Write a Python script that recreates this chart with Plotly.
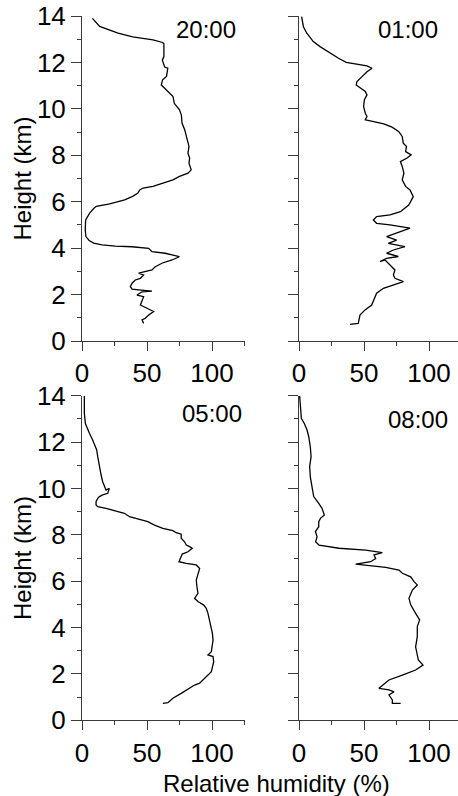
import plotly.graph_objects as go

W, H = 458, 796

# ---- Data (relative humidity %, height km) ----
rh_2000 = [8, 13.6, 27.7, 39, 54.6, 62, 63, 63, 61.8, 63.6, 66, 65, 62, 61, 63.6, 67.4, 70, 71, 75, 76.4,
           77, 79, 80.3, 81.5, 82.3, 81.5, 82.8, 82.3, 83.3, 84, 81.5, 75, 70, 62.3, 54.6, 47, 44.4, 43,
           39, 32.8, 21.3, 11, 9.2, 5.9, 2.8, 2.5, 3, 5.5, 9, 15.4, 25.6, 38.5, 51.3, 53.8, 64, 74.9,
           69.2, 61.5, 56.4, 53.8, 47.4, 43.6, 47.4, 44.9, 41, 38.5, 37.2, 38.5, 43.6, 53.8, 46.2, 42.3,
           47.4, 46.2, 44.9, 50, 55.1, 51.3, 48.7, 46.2, 47.4]
h_2000 = [13.9, 13.55, 13.26, 13.1, 12.97, 12.86, 12.8, 12.25, 12.1, 11.8, 11.75, 11.4, 11.25, 11.03, 10.89,
          10.67, 10.53, 10.24, 9.96, 9.74, 9.38, 9.1, 8.81, 8.59, 8.38, 8.09, 7.88, 7.66, 7.52, 7.37, 7.23,
          7.09, 6.94, 6.8, 6.66, 6.59, 6.51, 6.37, 6.23, 6.08, 5.91, 5.8, 5.72, 5.51, 5.22, 4.79, 4.5, 4.33,
          4.22, 4.14, 4.09, 4.06, 3.99, 3.85, 3.78, 3.63, 3.49, 3.35, 3.2, 3.06, 2.99, 2.92, 2.84, 2.7,
          2.63, 2.49, 2.34, 2.23, 2.2, 2.15, 2.12, 1.98, 1.91, 1.77, 1.55, 1.41, 1.27, 1.12, 0.98, 0.91, 0.76]

rh_0100 = [2, 3.4, 6, 11, 16.2, 24, 30.4, 36.3, 44.6, 52.3, 56.2, 52.3, 48.5, 44.6, 44, 47.2, 51, 52.3, 50.3,
           49.7, 51, 52.3, 51, 57.5, 65.2, 71.6, 76.8, 79.4, 80.2, 82.7, 82, 86.3, 83.2, 78, 79.4, 80.7,
           79.4, 82, 85.4, 87.9, 84.4, 78, 70, 59.7, 57.2, 59.7, 70, 85.4, 77.7, 67.4, 75.1, 68.7, 81.5,
           72.6, 67.4, 76.4, 67.4, 62.3, 66.2, 70, 73.8, 72.6, 73.8, 80.3, 72.6, 64.9, 59.7, 57.2, 55.9,
           50.8, 46.9, 45.6, 39.2]
h_0100 = [13.97, 13.54, 13.26, 12.9, 12.68, 12.4, 12.18, 12.0, 11.92, 11.85, 11.75, 11.6, 11.39, 11.18, 11.03,
          10.89, 10.75, 10.6, 10.39, 10.1, 9.81, 9.67, 9.53, 9.45, 9.35, 9.21, 9.02, 8.81, 8.52, 8.38, 8.16,
          8.02, 7.88, 7.73, 7.52, 7.23, 6.94, 6.66, 6.51, 6.22, 5.86, 5.57, 5.43, 5.36, 5.21, 5.07, 5.0,
          4.86, 4.71, 4.5, 4.35, 4.21, 4.07, 3.92, 3.78, 3.64, 3.56, 3.42, 3.49, 3.28, 3.06, 2.84, 2.7,
          2.56, 2.41, 2.27, 2.06, 1.77, 1.55, 1.34, 1.12, 0.76, 0.72]

rh_0500 = [1.8, 1.8, 2.6, 4.4, 5.7, 8.2, 9.5, 11.3, 12.1, 12.9, 13.4, 14.7, 15.9, 17.2, 18.5, 21, 19.8, 15.9,
           13.4, 12.1, 10.8, 10.8, 12.1, 18.5, 26.2, 32.6, 36.5, 44.2, 50.6, 55.8, 62.2, 69.9, 72.5, 76.3,
           76.3, 78.9, 80.2, 82.8, 84.8, 81.5, 77.1, 76.3, 74.6, 80.2, 87.9, 90.5, 89.2, 87.9, 88.4, 89.2,
           86.6, 89.2, 93.6, 95.6, 96.9, 98.2, 99.5, 100.3, 100.8, 100.3, 99.5, 96.9, 100.8, 101.3, 100.3,
           99.5, 96.9, 94.3, 90.5, 86.6, 82.8, 76.3, 69.9, 66.1, 62.2]
h_0500 = [13.99, 13.24, 12.8, 12.52, 12.38, 12.09, 11.87, 11.66, 11.37, 11.08, 10.87, 10.58, 10.29, 10.08,
          9.93, 10.0, 9.79, 9.72, 9.65, 9.57, 9.43, 9.29, 9.21, 9.14, 9.04, 8.93, 8.78, 8.67, 8.57, 8.42,
          8.28, 8.18, 8.09, 8.03, 7.85, 7.7, 7.56, 7.49, 7.42, 7.27, 7.17, 7.06, 6.84, 6.77, 6.7, 6.55, 6.34,
          6.05, 5.76, 5.48, 5.26, 5.12, 4.97, 4.83, 4.61, 4.33, 4.04, 3.75, 3.46, 3.18, 2.96, 2.82, 2.75,
          2.53, 2.31, 2.1, 1.95, 1.81, 1.6, 1.52, 1.38, 1.16, 0.95, 0.76, 0.73]

rh_0800 = [0.5, 1, 1.8, 4.1, 6.2, 7.5, 8.7, 9.3, 8.2, 8.7, 10, 11.3, 15.2, 17.7, 19.5, 16.5, 15.2, 15.2, 12.6,
           13.9, 12.8, 15.4, 30.8, 51.3, 64.1, 57.7, 59, 55.1, 43.6, 51.3, 66.7, 76.9, 79.5, 85.9, 88.5, 91,
           87.2, 84.6, 85.9, 89.7, 92.8, 91, 91, 89.7, 91, 91.8, 95.4, 89.7, 79.5, 69.2, 61.5, 69.2, 73.1,
           69.2, 71.8, 71.8, 78.2]
h_0800 = [13.99, 13.53, 13.02, 12.8, 12.52, 12.23, 11.8, 11.37, 10.94, 10.5, 10.08, 9.65, 9.36, 9.14, 8.85,
          8.71, 8.57, 8.35, 8.14, 7.92, 7.7, 7.56, 7.42, 7.34, 7.23, 7.13, 6.98, 6.84, 6.74, 6.7, 6.6, 6.48,
          6.34, 6.19, 5.98, 5.84, 5.62, 5.26, 4.98, 4.61, 4.33, 4.04, 3.61, 3.17, 2.82, 2.6, 2.38, 2.17,
          1.95, 1.74, 1.38, 1.31, 1.23, 1.09, 0.88, 0.73, 0.73]

panel_labels = ["20:00", "01:00", "05:00", "08:00"]
x_tickvals = [0, 50, 100]
y_tickvals = [0, 2, 4, 6, 8, 10, 12, 14]

FONT = "Liberation Sans, Arial, sans-serif"
AX_COLOR = "#3a3a3a"

fig = go.Figure()
series = [(rh_2000, h_2000), (rh_0100, h_0100), (rh_0500, h_0500), (rh_0800, h_0800)]
for i, (x, y) in enumerate(series):
    suffix = "" if i == 0 else str(i + 1)
    fig.add_trace(go.Scatter(x=x, y=y, mode="lines", xaxis="x" + suffix, yaxis="y" + suffix,
                             line=dict(color="black", width=1.3), showlegend=False, hoverinfo="skip",
                             cliponaxis=False))

def px_x(p):
    return p / W

def px_y(p):
    return 1 - p / H

# panel pixel geometry: (left, right, top, bottom)
geom = [(82, 244.5, 16, 341), (299, 458, 16, 341), (82, 244.5, 395.7, 720.3), (299, 458, 395.7, 720.3)]
xranges = [[0, 125], [0, (458 - 299) / 1.3], [0, 125], [0, (458 - 299) / 1.3]]

layout = dict(width=W, height=H, margin=dict(l=0, r=0, t=0, b=0, autoexpand=False),
              plot_bgcolor="white", paper_bgcolor="white", showlegend=False,
              font=dict(family=FONT, color="black"))
for i, (l, r, t, b) in enumerate(geom):
    suffix = "" if i == 0 else str(i + 1)
    layout["xaxis" + suffix] = dict(
        domain=[px_x(l), px_x(r)], range=xranges[i], anchor="y" + suffix, automargin=False,
        showgrid=False, zeroline=False, showline=True, linecolor=AX_COLOR, linewidth=1,
        ticks="outside", ticklen=9, tickwidth=1, tickcolor=AX_COLOR,
        tickvals=x_tickvals, tickfont=dict(size=26, family=FONT, color="black"),
        minor=dict(dtick=25, tick0=0, ticks="outside", ticklen=4, tickwidth=1, tickcolor=AX_COLOR),
        fixedrange=True)
    layout["yaxis" + suffix] = dict(
        domain=[px_y(b), px_y(t)], range=[0, 14], anchor="x" + suffix, automargin=False,
        showgrid=False, zeroline=False, showline=True, linecolor=AX_COLOR, linewidth=1,
        ticks="outside", ticklen=10, tickwidth=1, tickcolor=AX_COLOR,
        tickvals=y_tickvals, showticklabels=(i % 2 == 0),
        tickfont=dict(size=26, family=FONT, color="black"),
        minor=dict(dtick=1, tick0=0, ticks="outside", ticklen=4, tickwidth=1, tickcolor=AX_COLOR),
        fixedrange=True)

annotations = []
label_pos = [(206, 29), (408, 30), (212, 413), (418, 419)]
for txt, (ax_, ay_) in zip(panel_labels, label_pos):
    annotations.append(dict(text=txt, x=px_x(ax_), y=px_y(ay_), xref="paper", yref="paper",
                            xanchor="center", yanchor="middle", showarrow=False,
                            font=dict(size=24, family=FONT, color="black")))
for cy in [178.5, 558]:
    annotations.append(dict(text="Height (km)", x=px_x(22), y=px_y(cy), xref="paper", yref="paper",
                            xanchor="center", yanchor="middle", textangle=-90, showarrow=False,
                            font=dict(size=24, family=FONT, color="black")))
annotations.append(dict(text="Relative humidity (%)", x=px_x(276), y=px_y(783), xref="paper", yref="paper",
                        xanchor="center", yanchor="middle", showarrow=False,
                        font=dict(size=24, family=FONT, color="black")))
layout["annotations"] = annotations

fig.update_layout(**layout)
fig.write_html("out.html", config={"displayModeBar": False},
               post_script="document.body.style.margin='0';document.body.style.overflow='hidden';")
